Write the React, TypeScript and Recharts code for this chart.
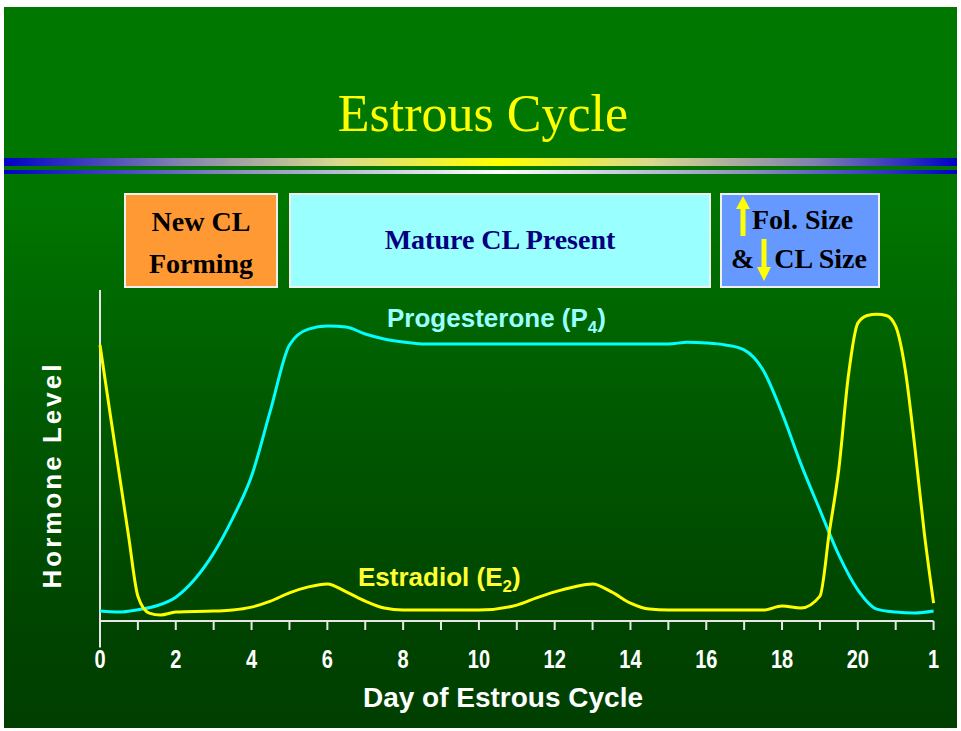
import React from "react";
import { LineChart, Line, XAxis, YAxis, ReferenceLine } from "recharts";

// day of cycle vs relative hormone level (0-100)
const p4Days = [0, 0.5, 1, 1.5, 2, 2.5, 3, 3.5, 4, 4.5, 5, 5.5, 6, 6.5, 7, 7.5, 8, 8.5, 9, 10, 11, 12, 13, 14, 15, 15.5, 16, 16.5, 17, 17.5, 18, 18.5, 19, 19.5, 20, 20.5, 21, 21.5, 22];
const p4Level = [3.0, 2.7, 3.4, 4.6, 7.2, 12.6, 20.5, 31, 43.8, 63.7, 83.4, 88.2, 89.1, 88.8, 86.7, 85.2, 84.3, 83.7, 83.7, 83.7, 83.7, 83.7, 83.7, 83.7, 83.7, 84.2, 84, 83.4, 81.9, 75.8, 62.8, 47.4, 33.5, 19.9, 9.4, 3.6, 2.7, 2.4, 3.0];

const e2Days = [0, 0.25, 0.5, 0.75, 1, 1.3, 1.6, 2, 3, 3.5, 4, 4.5, 5, 5.5, 6, 6.5, 7, 7.5, 8, 9, 10, 11, 11.5, 12, 12.5, 13, 13.5, 14, 14.5, 15, 16, 17, 17.5, 18, 18.5, 19, 19.25, 19.5, 19.75, 20, 20.25, 20.5, 20.75, 21, 21.25, 21.5, 21.75, 22];
const e2Level = [83.4, 64, 45, 26, 7.5, 2.4, 1.8, 2.7, 3.0, 3.3, 4.2, 6.0, 8.5, 10.3, 11.2, 8.8, 6.0, 3.9, 3.3, 3.3, 3.3, 4.8, 6.9, 8.8, 10.3, 11.2, 8.8, 5.4, 3.6, 3.3, 3.3, 3.3, 3.3, 4.5, 3.9, 7.5, 27, 46, 74, 90, 92.3, 92.7, 92.3, 89, 76, 53, 27, 5.4];

const dayTicks = Array.from({ length: 23 }, (_, i) => i);

const p4Data = p4Days.map((day, i) => ({ day, level: p4Level[i] }));
const e2Data = e2Days.map((day, i) => ({ day, level: e2Level[i] }));

const sans = "'Liberation Sans', Arial, sans-serif";
const serif = "'Liberation Serif', 'Times New Roman', serif";

const DayTick = (props: any) => {
  const { x, y, payload } = props;
  const d = payload.value;
  if (d % 2 !== 0 && d !== 22) return <g />;
  // slide used a condensed face; squeeze the bold sans horizontally
  return (
    <text
      transform={`translate(${x},${y + 36}) scale(0.8,1)`}
      textAnchor="middle"
      fill="#ffffff"
      fontFamily={sans}
      fontWeight="bold"
      fontSize={25}
    >
      {d === 22 ? "1" : String(d)}
    </text>
  );
};

const abs = (style: React.CSSProperties): React.CSSProperties => ({ position: "absolute", ...style });

const boxText: React.CSSProperties = {
  fontFamily: serif,
  fontWeight: "bold",
  fontSize: 28,
  lineHeight: "42px",
  textAlign: "center",
  whiteSpace: "nowrap",
};

const App = () => {
  return (
    <div style={abs({ left: 0, top: 0, width: 961, height: 731, background: "#ffffff" })}>
      <div
        style={abs({
          left: 4,
          top: 7,
          width: 953,
          height: 721,
          background: "linear-gradient(180deg, #007800 0%, #007600 26%, #005a00 55%, #004200 88%, #003f00 100%)",
        })}
      />
      {/* title + rule bands */}
      <div style={abs({ left: 0, top: 84, width: 966, textAlign: "center", fontFamily: serif, fontSize: 52, color: "#ffff00", lineHeight: "60px" })}>
        Estrous Cycle
      </div>
      <div
        style={abs({
          left: 4,
          top: 158,
          width: 953,
          height: 8,
          background: "linear-gradient(90deg, #0000c8 0%, #8080b0 18%, #d8d890 35%, #ffff00 52%, #d8d890 68%, #8080b0 85%, #0000c8 100%)",
        })}
      />
      <div
        style={abs({
          left: 4,
          top: 170,
          width: 953,
          height: 4,
          background: "linear-gradient(90deg, #0000c8 0%, #9090c0 25%, #ffffff 52%, #9090c0 78%, #0000c8 100%)",
        })}
      />

      {/* phase boxes */}
      <div style={abs({ left: 124, top: 193, width: 150, height: 91, background: "#ff9933", border: "2px solid #f0f0f0" })}>
        <div style={{ ...boxText, color: "#000000", marginTop: 6 }}>
          New CL
          <br />
          Forming
        </div>
      </div>
      <div style={abs({ left: 289, top: 193, width: 418, height: 91, background: "#99ffff", border: "2px solid #f0f0f0" })}>
        <div style={{ ...boxText, color: "#000080", marginTop: 24 }}>Mature CL Present</div>
      </div>
      <div style={abs({ left: 720, top: 193, width: 156, height: 91, background: "#6699ff", border: "2px solid #f0f0f0" })}>
        <div style={abs({ left: 30, top: 4, ...boxText, color: "#000000" })}>Fol. Size</div>
        <div style={abs({ left: 9, top: 43, ...boxText, color: "#000000" })}>
          &amp;
          <span style={{ display: "inline-block", width: 20 }} />
          CL Size
        </div>
        <svg style={abs({ left: 0, top: 0 })} width={156} height={91}>
          <line x1={21} y1={12} x2={21} y2={41} stroke="#ffff00" strokeWidth={5} />
          <polygon points="14,14 28,14 21,1" fill="#ffff00" />
          <line x1={42} y1={44} x2={42} y2={74} stroke="#ffff00" strokeWidth={5} />
          <polygon points="35,72 49,72 42,86" fill="#ffff00" />
        </svg>
      </div>

      {/* chart */}
      <div style={abs({ left: 0, top: 0 })}>
        <LineChart width={961} height={731} margin={{ top: 290, right: 27.4, left: 100, bottom: 70 }}>
          <XAxis
            type="number"
            dataKey="day"
            domain={[0, 22]}
            ticks={dayTicks}
            interval={0}
            height={40}
            tickSize={9}
            tick={<DayTick />}
            axisLine={{ stroke: "#e6e6e6", strokeWidth: 2 }}
            tickLine={{ stroke: "#e6e6e6", strokeWidth: 2 }}
            allowDuplicatedCategory={false}
          />
          <YAxis type="number" domain={[0, 100]} hide />
          <ReferenceLine
            segment={[{ x: 0, y: -8 }, { x: 0, y: 100 }]}
            stroke="#e6e6e6"
            strokeWidth={2}
            ifOverflow="visible"
          />
          <Line
            data={p4Data}
            dataKey="level"
            type="monotone"
            stroke="#00ffff"
            strokeWidth={3}
            dot={false}
            isAnimationActive={false}
          />
          <Line
            data={e2Data}
            dataKey="level"
            type="monotone"
            stroke="#ffff00"
            strokeWidth={3}
            dot={false}
            isAnimationActive={false}
          />
        </LineChart>
      </div>

      {/* series + axis labels */}
      <div style={abs({ left: 387, top: 303, fontFamily: sans, fontWeight: "bold", fontSize: 26, color: "#99ffff", whiteSpace: "nowrap" })}>
        Progesterone (P<sub style={{ fontSize: 17 }}>4</sub>)
      </div>
      <div style={abs({ left: 358, top: 562, fontFamily: sans, fontWeight: "bold", fontSize: 26, color: "#ffff33", whiteSpace: "nowrap" })}>
        Estradiol (E<sub style={{ fontSize: 17 }}>2</sub>)
      </div>
      <div style={abs({ left: 358, top: 682, width: 290, textAlign: "center", fontFamily: sans, fontWeight: "bold", fontSize: 28, color: "#ffffff", whiteSpace: "nowrap" })}>
        Day of Estrous Cycle
      </div>
      <div
        style={abs({
          left: 52,
          top: 475,
          transform: "translate(-50%, -50%) rotate(-90deg)",
          fontFamily: sans,
          fontWeight: "bold",
          fontSize: 26,
          letterSpacing: 3,
          color: "#ffffff",
          whiteSpace: "nowrap",
        })}
      >
        Hormone Level
      </div>
    </div>
  );
};

export default App;
